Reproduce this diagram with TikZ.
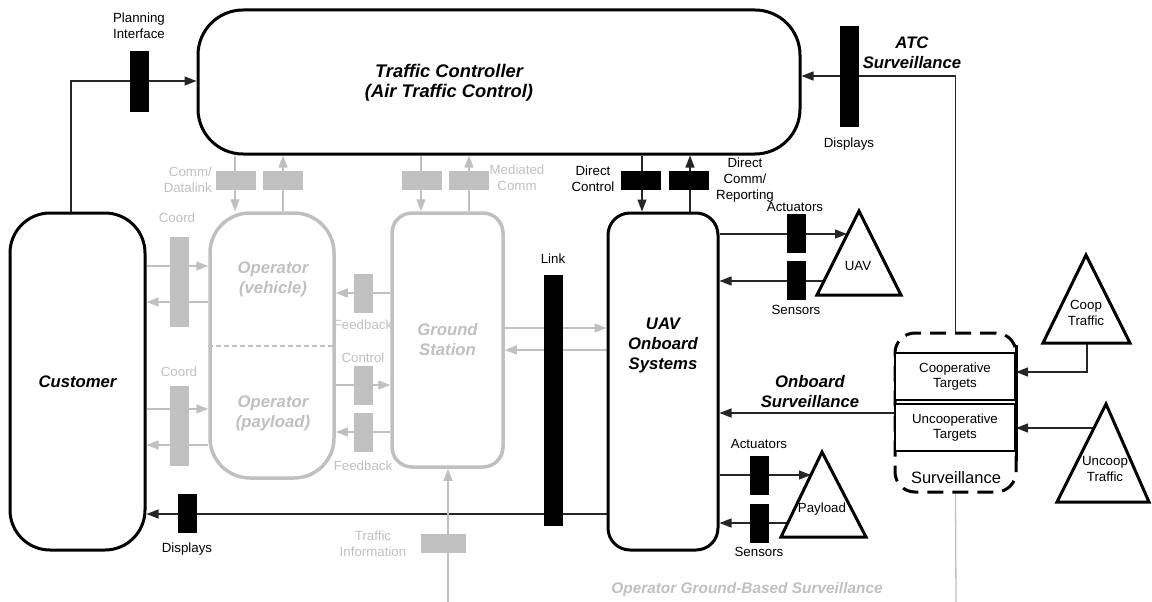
\documentclass[tikz,border=0pt]{standalone}
\usepackage{fontspec}
\setmainfont{Liberation Sans}
\usetikzlibrary{arrows.meta, backgrounds, calc}
\definecolor{lgray}{RGB}{192,192,192}

\begin{document}
\begin{tikzpicture}[x=1pt, y=-1pt,
        >={Triangle[length=12pt, width=9pt]},
        box/.style={draw, line width=3pt, fill=white, inner sep=0pt},
        gbox/.style={draw=lgray, line width=3.5pt, fill=white, inner sep=0pt},
        tbox/.style={draw, line width=2pt, fill=white, inner sep=0pt, align=center, font=\fontsize{13.3pt}{15.5pt}\selectfont},
        bar/.style={fill=black, inner sep=0pt},
        gbar/.style={fill=lgray, inner sep=0pt},
        vbar/.style={minimum width=19pt, minimum height=39pt},
        hbar/.style={minimum width=40pt, minimum height=19pt},
        lbl/.style={font=\fontsize{13.3pt}{16pt}\selectfont, align=center, inner sep=0pt},
        glbl/.style={lbl, text=lgray},
        hd/.style={font=\fontsize{16.7pt}{20pt}\selectfont\bfseries\itshape, align=center, inner sep=0pt},
        ghd/.style={hd, text=lgray},
        cline/.style={draw=black!85, line width=1.3pt},
        gline/.style={draw=lgray, line width=1.3pt},
        tri/.style={draw, line width=3pt, fill=white},
        ]
    \useasboundingbox (0,0) rectangle (1152,602);

    % main boxes
    \node (TC) at (499,82) [box, minimum width=602pt, minimum height=144pt, rounded corners=45pt] {};
    \node (TCt) at (449,83) [hd, font=\fontsize{18.3pt}{20pt}\selectfont\bfseries\itshape] {Traffic Controller\\(Air Traffic Control)};
    \node (Cust) at (77.5,381.5) [box, minimum width=135pt, minimum height=337pt, rounded corners=40pt, hd] {Customer};
    \node (Op) at (272,345.5) [gbox, minimum width=124pt, minimum height=265pt, rounded corners=40pt] {};
    \draw [lgray, line width=1.5pt, dash pattern=on 5pt off 3pt] (Op.west |- 0,346) -- (Op.east |- 0,346);
    \node (OpVt) at (273,279) [ghd] {Operator\\(vehicle)};
    \node (OpPt) at (273,413) [ghd] {Operator\\(payload)};
    \node (GS) at (447.5,340) [gbox, minimum width=111pt, minimum height=254pt, rounded corners=20pt, ghd] {Ground\\Station};
    \node (UAV) at (663,381.5) [box, minimum width=110pt, minimum height=337pt, rounded corners=22pt] {};
    \node (UAVt) at (663,345) [hd] {UAV\\Onboard\\Systems};

    % surveillance
    \node (Surv) at (955.5,412.5) [draw, line width=3pt, dash pattern=on 16pt off 9pt, rounded corners=20pt, minimum width=121pt, minimum height=159pt] {};
    \node (CT) at (955,376.5) [tbox, minimum width=120pt, minimum height=47pt] {Cooperative\\Targets};
    \node (UT) at (955,427.5) [tbox, minimum width=120pt, minimum height=47pt] {Uncooperative\\Targets};
    \draw [line width=3pt] ($(CT.north east)+(0,-7)$) -- ($(UT.south east)+(0,9)$);
    \node (Survt) at (956,478) [font=\fontsize{16.5pt}{19pt}\selectfont, inner sep=0pt] {Surveillance};

    % triangles
    \draw [tri] (817,295) -- (859,211) -- (901,295) -- cycle;
    \node (UAVv) at (858,266) [lbl] {UAV};
    \coordinate (UAVa) at (847,234);
    \coordinate (UAVs) at (824,281);
    \draw [tri] (781,537) -- (822,452) -- (866,537) -- cycle;
    \node (PL) at (822,509) [lbl] {Payload};
    \coordinate (PLa) at (811,475);
    \coordinate (PLs) at (788,523);
    \draw [tri] (1043,343) -- (1086,255) -- (1130,343) -- cycle;
    \node (CTr) at (1086,313) [lbl] {Coop\\Traffic};
    \coordinate (CTb) at (1087,343);
    \draw [tri] (1057,502) -- (1106,404) -- (1149,502) -- cycle;
    \node (UTr) at (1105,469) [lbl] {Uncoop\\Traffic};
    \coordinate (UTl) at (1094,428);

    % black bars
    \node (PI) at (139.5,81.5) [bar, minimum width=19pt, minimum height=61pt] {};
    \node (PIt) at (139,26) [lbl] {Planning\\Interface};
    \node (DA) at (849.5,76.5) [bar, minimum width=19pt, minimum height=101pt] {};
    \node (DAt) at (849,144) [lbl] {Displays};
    \node (ATCt) at (912,53) [hd] {ATC\\Surveillance};
    \node (DC) at (641,180.5) [bar, hbar] {};
    \node (DR) at (689,180.5) [bar, hbar] {};
    \node (DCt) at (593,179) [lbl] {Direct\\Control};
    \node (DRt) at (745,180) [lbl] {Direct\\Comm/\\Reporting};
    \node (Lk) at (553.5,400.5) [bar, minimum width=19pt, minimum height=251pt] {};
    \node (Lkt) at (553,259) [lbl] {Link};
    \node (DB) at (187.5,513.5) [bar, vbar] {};
    \node (DBt) at (187,549) [lbl] {Displays};
    \node (AU) at (796,233.5) [bar, vbar] {};
    \node (AUt) at (795,207) [lbl] {Actuators};
    \node (SU) at (796,280.5) [bar, vbar] {};
    \node (SUt) at (796,310) [lbl] {Sensors};
    \node (AP) at (759.5,475.5) [bar, vbar] {};
    \node (APt) at (759,444) [lbl] {Actuators};
    \node (SP) at (759.5,523) [bar, vbar] {};
    \node (SPt) at (759,552) [lbl] {Sensors};
    \node (OBt) at (810,392) [hd] {Onboard\\Surveillance};

    % grey bars
    \node (CD1) at (235.5,180.5) [gbar, hbar] {};
    \node (CD2) at (283,180.5) [gbar, hbar] {};
    \node (CDt) at (212,180) [glbl, anchor=east, align=right] {Comm/\\Datalink};
    \node (MC1) at (421.5,180.5) [gbar, hbar] {};
    \node (MC2) at (469,180.5) [gbar, hbar] {};
    \node (MCt) at (517,178) [glbl] {Mediated\\Comm};
    \node (CO1) at (179.5,282) [gbar, minimum width=19pt, minimum height=90pt] {};
    \node (CO1t) at (177,218) [glbl] {Coord};
    \node (CO2) at (179.5,426) [gbar, minimum width=19pt, minimum height=80pt] {};
    \node (CO2t) at (179,372) [glbl] {Coord};
    \node (FB1) at (363.5,293) [gbar, vbar] {};
    \node (FB1t) at (363,325) [glbl] {Feedback};
    \node (CL) at (363.5,385.5) [gbar, vbar] {};
    \node (CLt) at (363,358) [glbl] {Control};
    \node (FB2) at (363.5,432.5) [gbar, vbar] {};
    \node (FB2t) at (363,466) [glbl] {Feedback};
    \node (TI) at (443,543.5) [gbar, minimum width=45pt, minimum height=19pt] {};
    \node (TIt) at (373,544) [glbl] {Traffic\\Information};
    \node (OGS) at (747,590) [ghd, font=\fontsize{15.4pt}{18pt}\selectfont\bfseries\itshape] {Operator Ground-Based Surveillance};

    \coordinate (TIb) at (448,602);
    \coordinate (SVb) at (956,602);

    \begin{scope}[on background layer]
        % black links
        \draw [cline, ->] (Cust.north -| 71,0) |- (TC.west |- 0,81);
        \draw [cline, ->] (Surv.north) |- (TC.east |- 0,76);
        \draw [cline, ->] (TC.south -| 642,0) -- (UAV.north -| 642,0);
        \draw [cline, ->] (UAV.north -| 690,0) -- (TC.south -| 690,0);
        \draw [cline, ->] (UAV.west |- 0,514) -- (Cust.east |- 0,514);
        \draw [cline, ->] (UAV.east |- UAVa) -- (UAVa);
        \draw [cline, ->] (UAVs) -- (UAV.east |- UAVs);
        \draw [cline, ->] (UAV.east |- PLa) -- (PLa);
        \draw [cline, ->] (PLs) -- (UAV.east |- PLs);
        \draw [cline, ->] (Surv.west |- 0,413) -- (UAV.east |- 0,413);
        \draw [cline, ->] (CTb) |- (CT.east |- 0,372);
        \draw [cline, ->] (UTl) -- (UT.east |- UTl);

        % grey links
        \draw [gline, ->] (TC.south -| 235,0) -- (Op.north -| 235,0);
        \draw [gline, ->] (Op.north -| 283,0) -- (TC.south -| 283,0);
        \draw [gline, ->] (TC.south -| 421,0) -- (GS.north -| 421,0);
        \draw [gline, ->] (GS.north -| 469,0) -- (TC.south -| 469,0);
        \draw [gline, ->] (Cust.east |- 0,266) -- (Op.west |- 0,266);
        \draw [gline, ->] (Op.west |- 0,302) -- (Cust.east |- 0,302);
        \draw [gline, ->] (Cust.east |- 0,409) -- (Op.west |- 0,409);
        \draw [gline, ->] (Op.west |- 0,445) -- (Cust.east |- 0,445);
        \draw [gline, ->] (GS.west |- 0,293) -- (Op.east |- 0,293);
        \draw [gline, ->] (Op.east |- 0,385) -- (GS.west |- 0,385);
        \draw [gline, ->] (GS.west |- 0,432) -- (Op.east |- 0,432);
        \draw [gline, ->] (GS.east |- 0,328) -- (UAV.west |- 0,328);
        \draw [gline, ->] (UAV.west |- 0,350) -- (GS.east |- 0,350);
        \draw [gline, ->] (TIb) -- (GS.south -| TIb);
        \draw [gline] (Surv.south) -- (SVb);
    \end{scope}
\end{tikzpicture}
\end{document}
